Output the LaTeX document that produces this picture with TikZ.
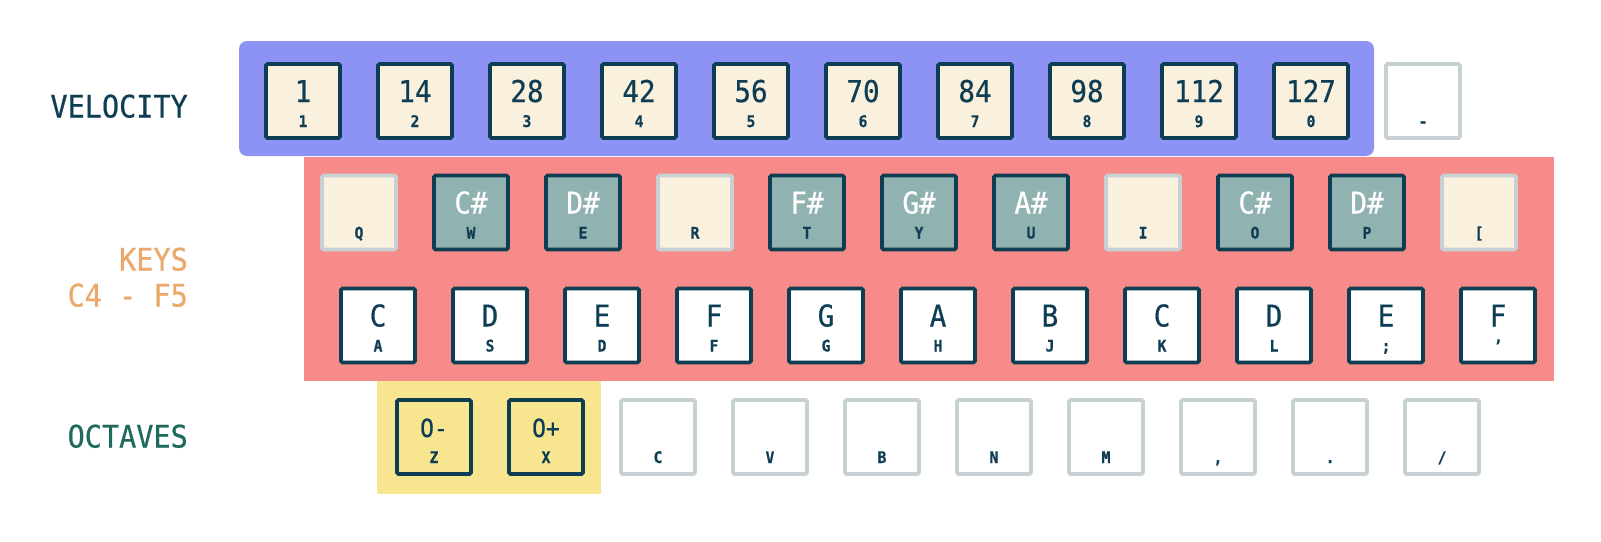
\documentclass[tikz,border=0pt]{standalone}
\usepackage{fontspec}
\newfontfamily\keyfont[FakeBold=0.6,FakeStretch=0.92]{DejaVu Sans Mono}

\definecolor{ink}{HTML}{0F3D54}
\definecolor{velpanel}{HTML}{8C93F5}
\definecolor{keypanel}{HTML}{F78B8A}
\definecolor{octpanel}{HTML}{F7E68F}
\definecolor{cream}{HTML}{FAF0DE}
\definecolor{sharpfill}{HTML}{90B2B0}
\definecolor{idle}{HTML}{C7D1D4}
\definecolor{keysorange}{HTML}{EBA86B}
\definecolor{octgreen}{HTML}{1E6B5E}

\tikzset{
  keybox/.style={rectangle,draw=ink,line width=3.8pt,rounded corners=1.5pt,minimum width=74pt,minimum height=74pt,inner sep=0pt},
  velkey/.style={keybox,fill=cream},
  sharpkey/.style={keybox,fill=sharpfill},
  naturalkey/.style={keybox,fill=white},
  octkey/.style={keybox,fill=octpanel},
  idlekey/.style={keybox,draw=idle,fill=white},
  gapkey/.style={keybox,draw=idle,fill=cream},
  bigtxt/.style={anchor=base,inner sep=0pt,text=ink,font=\keyfont\fontsize{30}{32}\selectfont},
  octtxt/.style={bigtxt,font=\keyfont\fontsize{25}{27}\selectfont},
  smalltxt/.style={anchor=base,inner sep=0pt,text=ink,font=\keyfont\bfseries\fontsize{16}{18}\selectfont},
  rowlabel/.style={anchor=base east,inner sep=0pt,font=\keyfont\fontsize{31}{33}\selectfont}
}

\begin{document}
\begin{tikzpicture}[x=1pt,y=-1pt]
\useasboundingbox (0,0) rectangle (1601,541);

% panels
\fill[keypanel] (304,157) rectangle (1554,381);
\fill[velpanel,rounded corners=8pt] (239,41) rectangle (1374,156);
\fill[octpanel] (377,381) rectangle (601,494);

% row labels
\node[rowlabel,text=ink] (velocity) at (188,117.5) {VELOCITY};
\node[rowlabel,text=keysorange] (keys) at (188,270.5) {KEYS};
\node[rowlabel,text=keysorange] (range) at (188,306.5) {C4 - F5};
\node[rowlabel,text=octgreen] (octaves) at (188,447.5) {OCTAVES};

% velocity row
\node[velkey] (vel1) at (303,101) {}; \node[bigtxt] at ([yshift=-1pt]vel1.center) {1}; \node[smalltxt] at ([yshift=-26pt]vel1.center) {1};
\node[velkey] (vel2) at (415,101) {}; \node[bigtxt] at ([yshift=-1pt]vel2.center) {14}; \node[smalltxt] at ([yshift=-26pt]vel2.center) {2};
\node[velkey] (vel3) at (527,101) {}; \node[bigtxt] at ([yshift=-1pt]vel3.center) {28}; \node[smalltxt] at ([yshift=-26pt]vel3.center) {3};
\node[velkey] (vel4) at (639,101) {}; \node[bigtxt] at ([yshift=-1pt]vel4.center) {42}; \node[smalltxt] at ([yshift=-26pt]vel4.center) {4};
\node[velkey] (vel5) at (751,101) {}; \node[bigtxt] at ([yshift=-1pt]vel5.center) {56}; \node[smalltxt] at ([yshift=-26pt]vel5.center) {5};
\node[velkey] (vel6) at (863,101) {}; \node[bigtxt] at ([yshift=-1pt]vel6.center) {70}; \node[smalltxt] at ([yshift=-26pt]vel6.center) {6};
\node[velkey] (vel7) at (975,101) {}; \node[bigtxt] at ([yshift=-1pt]vel7.center) {84}; \node[smalltxt] at ([yshift=-26pt]vel7.center) {7};
\node[velkey] (vel8) at (1087,101) {}; \node[bigtxt] at ([yshift=-1pt]vel8.center) {98}; \node[smalltxt] at ([yshift=-26pt]vel8.center) {8};
\node[velkey] (vel9) at (1199,101) {}; \node[bigtxt] at ([yshift=-1pt]vel9.center) {112}; \node[smalltxt] at ([yshift=-26pt]vel9.center) {9};
\node[velkey] (vel10) at (1311,101) {}; \node[bigtxt] at ([yshift=-1pt]vel10.center) {127}; \node[smalltxt] at ([yshift=-26pt]vel10.center) {0};
\node[idlekey] (veldash) at (1423,101) {}; \node[smalltxt] at ([yshift=-26pt]veldash.center) {-};

% upper key row
\node[gapkey] (upQ) at (359,212.5) {}; \node[smalltxt] at ([yshift=-26pt]upQ.center) {Q};
\node[sharpkey] (upW) at (471,212.5) {}; \node[bigtxt,text=white] at ([yshift=-1pt]upW.center) {C\#}; \node[smalltxt] at ([yshift=-26pt]upW.center) {W};
\node[sharpkey] (upE) at (583,212.5) {}; \node[bigtxt,text=white] at ([yshift=-1pt]upE.center) {D\#}; \node[smalltxt] at ([yshift=-26pt]upE.center) {E};
\node[gapkey] (upR) at (695,212.5) {}; \node[smalltxt] at ([yshift=-26pt]upR.center) {R};
\node[sharpkey] (upT) at (807,212.5) {}; \node[bigtxt,text=white] at ([yshift=-1pt]upT.center) {F\#}; \node[smalltxt] at ([yshift=-26pt]upT.center) {T};
\node[sharpkey] (upY) at (919,212.5) {}; \node[bigtxt,text=white] at ([yshift=-1pt]upY.center) {G\#}; \node[smalltxt] at ([yshift=-26pt]upY.center) {Y};
\node[sharpkey] (upU) at (1031,212.5) {}; \node[bigtxt,text=white] at ([yshift=-1pt]upU.center) {A\#}; \node[smalltxt] at ([yshift=-26pt]upU.center) {U};
\node[gapkey] (upI) at (1143,212.5) {}; \node[smalltxt] at ([yshift=-26pt]upI.center) {I};
\node[sharpkey] (upO) at (1255,212.5) {}; \node[bigtxt,text=white] at ([yshift=-1pt]upO.center) {C\#}; \node[smalltxt] at ([yshift=-26pt]upO.center) {O};
\node[sharpkey] (upP) at (1367,212.5) {}; \node[bigtxt,text=white] at ([yshift=-1pt]upP.center) {D\#}; \node[smalltxt] at ([yshift=-26pt]upP.center) {P};
\node[gapkey] (upBr) at (1479,212.5) {}; \node[smalltxt] at ([yshift=-26pt]upBr.center) {[};

% lower key row
\node[naturalkey] (lowA) at (378,325.5) {}; \node[bigtxt] at ([yshift=-1pt]lowA.center) {C}; \node[smalltxt] at ([yshift=-26pt]lowA.center) {A};
\node[naturalkey] (lowS) at (490,325.5) {}; \node[bigtxt] at ([yshift=-1pt]lowS.center) {D}; \node[smalltxt] at ([yshift=-26pt]lowS.center) {S};
\node[naturalkey] (lowD) at (602,325.5) {}; \node[bigtxt] at ([yshift=-1pt]lowD.center) {E}; \node[smalltxt] at ([yshift=-26pt]lowD.center) {D};
\node[naturalkey] (lowF) at (714,325.5) {}; \node[bigtxt] at ([yshift=-1pt]lowF.center) {F}; \node[smalltxt] at ([yshift=-26pt]lowF.center) {F};
\node[naturalkey] (lowG) at (826,325.5) {}; \node[bigtxt] at ([yshift=-1pt]lowG.center) {G}; \node[smalltxt] at ([yshift=-26pt]lowG.center) {G};
\node[naturalkey] (lowH) at (938,325.5) {}; \node[bigtxt] at ([yshift=-1pt]lowH.center) {A}; \node[smalltxt] at ([yshift=-26pt]lowH.center) {H};
\node[naturalkey] (lowJ) at (1050,325.5) {}; \node[bigtxt] at ([yshift=-1pt]lowJ.center) {B}; \node[smalltxt] at ([yshift=-26pt]lowJ.center) {J};
\node[naturalkey] (lowK) at (1162,325.5) {}; \node[bigtxt] at ([yshift=-1pt]lowK.center) {C}; \node[smalltxt] at ([yshift=-26pt]lowK.center) {K};
\node[naturalkey] (lowL) at (1274,325.5) {}; \node[bigtxt] at ([yshift=-1pt]lowL.center) {D}; \node[smalltxt] at ([yshift=-26pt]lowL.center) {L};
\node[naturalkey] (lowSc) at (1386,325.5) {}; \node[bigtxt] at ([yshift=-1pt]lowSc.center) {E}; \node[smalltxt] at ([yshift=-26pt]lowSc.center) {;};
\node[naturalkey] (lowQt) at (1498,325.5) {}; \node[bigtxt] at ([yshift=-1pt]lowQt.center) {F}; \node[smalltxt] at ([yshift=-26pt]lowQt.center) {’};

% octave row
\node[octkey] (octZ) at (434,437) {}; \node[octtxt] at (octZ.center) {O-}; \node[smalltxt] at ([yshift=-26pt]octZ.center) {Z};
\node[octkey] (octX) at (546,437) {}; \node[octtxt] at (octX.center) {O+}; \node[smalltxt] at ([yshift=-26pt]octX.center) {X};
\node[idlekey] (octC) at (658,437) {}; \node[smalltxt] at ([yshift=-26pt]octC.center) {C};
\node[idlekey] (octV) at (770,437) {}; \node[smalltxt] at ([yshift=-26pt]octV.center) {V};
\node[idlekey] (octB) at (882,437) {}; \node[smalltxt] at ([yshift=-26pt]octB.center) {B};
\node[idlekey] (octN) at (994,437) {}; \node[smalltxt] at ([yshift=-26pt]octN.center) {N};
\node[idlekey] (octM) at (1106,437) {}; \node[smalltxt] at ([yshift=-26pt]octM.center) {M};
\node[idlekey] (octCm) at (1218,437) {}; \node[smalltxt] at ([yshift=-26pt]octCm.center) {,};
\node[idlekey] (octDt) at (1330,437) {}; \node[smalltxt] at ([yshift=-26pt]octDt.center) {.};
\node[idlekey] (octSl) at (1442,437) {}; \node[smalltxt] at ([yshift=-26pt]octSl.center) {/};

\end{tikzpicture}
\end{document}
